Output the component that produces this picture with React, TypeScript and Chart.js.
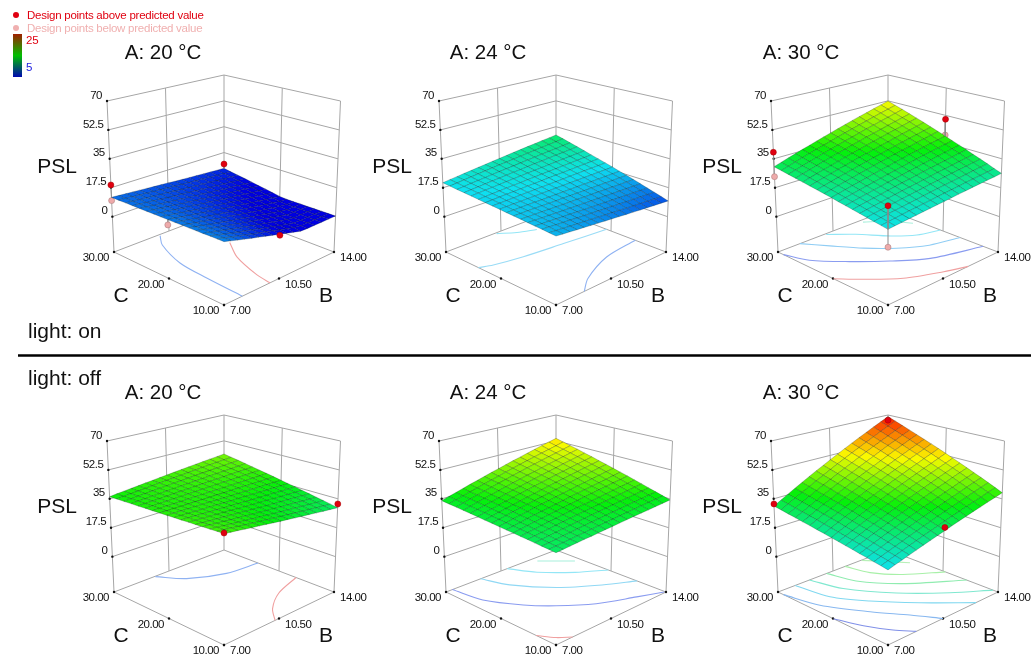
import React, { useEffect, useRef } from "react";
import { Chart, registerables } from "chart.js";

Chart.register(...registerables);

// Surface values: PSL x 10, rows run C = 10 -> 30, columns run B = 7 -> 14.
const psl_on_20 = [
[137,125,113,101,89,78,66,54,42,30,18,6,4,4,4,4,4],
[136,124,113,102,91,79,68,57,46,34,23,12,4,4,4,4,4],
[135,124,113,102,91,81,70,59,48,38,27,16,5,4,4,4,4],
[133,123,113,103,92,82,72,62,52,41,31,21,11,4,4,4,4],
[132,122,113,103,93,84,74,64,55,45,35,26,16,6,4,4,4],
[131,122,113,103,94,85,76,67,58,49,40,30,21,12,4,4,4],
[130,121,112,104,95,87,78,70,61,52,44,35,27,18,10,4,4],
[128,120,112,104,96,88,80,72,64,56,48,40,32,24,16,8,4],
[127,120,112,105,97,90,82,75,67,60,52,45,37,30,22,15,7],
[126,119,112,105,98,91,84,77,70,63,57,50,43,36,29,22,15],
[125,118,112,105,99,93,86,80,74,67,61,54,48,42,35,29,23],
[123,117,112,106,100,94,88,83,77,71,65,59,53,48,42,36,30],
[122,117,111,106,101,96,90,85,80,75,69,64,59,54,48,43,38],
[121,116,111,107,102,97,92,88,83,78,74,69,64,60,55,50,46],
[120,115,111,107,103,99,95,90,86,82,78,74,70,65,61,57,53],
[118,115,111,107,104,100,97,93,89,86,82,78,75,71,68,64,60],
[117,114,111,108,105,102,99,96,93,89,86,83,80,77,74,71,68],
];
const psl_on_24 = [
[168,163,159,154,150,145,141,136,132,127,122,118,113,109,104,100,95],
[170,166,162,158,154,151,147,143,139,135,131,127,123,119,115,111,108],
[173,170,166,163,160,156,153,150,147,143,140,137,133,130,127,124,120],
[175,172,170,167,164,162,159,156,154,151,148,146,143,140,138,135,132],
[177,175,173,171,169,167,165,163,161,159,157,155,153,151,149,147,145],
[180,178,177,176,174,173,171,170,169,167,166,165,163,162,160,159,158],
[182,181,181,180,179,178,177,177,176,175,174,174,173,172,171,171,170],
[184,184,184,184,184,183,183,183,183,183,183,183,182,182,182,182,182],
[187,187,188,188,189,189,190,190,191,191,192,192,193,193,194,194,195],
[189,190,191,192,194,195,196,197,198,199,200,202,203,204,205,206,207],
[191,193,195,197,198,200,202,203,205,207,209,210,212,214,216,218,219],
[193,195,198,200,203,205,207,210,212,215,217,219,222,224,227,229,231],
[196,199,202,205,208,211,214,217,220,223,226,229,232,235,238,241,244],
[198,202,205,209,213,216,220,224,227,231,235,238,242,246,249,253,257],
[200,204,209,213,217,222,226,230,234,239,243,247,252,256,260,265,269],
[203,208,213,218,223,228,233,238,242,247,252,257,262,267,272,277,282],
[205,211,216,222,227,233,238,244,249,255,261,266,272,277,283,288,294],
];
const psl_on_30 = [
[205,209,212,216,219,223,226,230,233,237,241,244,248,251,255,258,262],
[211,215,219,224,228,232,236,240,245,249,253,257,262,266,270,274,278],
[217,222,227,232,236,241,246,251,256,261,266,270,275,280,285,290,295],
[223,229,234,240,245,251,256,262,267,273,278,284,289,295,300,306,311],
[229,235,241,247,254,260,266,272,278,284,290,297,303,309,315,321,327],
[235,242,249,255,262,269,276,283,289,296,303,310,316,323,330,337,344],
[241,248,256,263,271,278,286,293,300,308,315,323,330,338,345,352,360],
[247,255,263,271,279,287,295,304,312,320,328,336,344,352,360,368,376],
[254,262,271,280,288,297,306,315,323,332,341,350,358,367,376,384,393],
[260,269,279,288,297,307,316,326,335,344,354,363,372,382,391,401,410],
[266,276,286,296,306,316,326,336,346,356,366,376,386,396,406,416,426],
[272,283,293,304,315,325,336,347,357,368,379,389,400,411,421,432,443],
[278,289,301,312,323,335,346,357,368,380,391,402,414,425,436,448,459],
[284,296,308,320,332,344,356,368,380,392,404,415,427,439,451,463,475],
[290,303,315,328,340,353,366,378,391,403,416,429,441,454,466,479,492],
[296,309,322,336,349,362,375,388,402,415,428,441,454,468,481,494,507],
[302,316,330,344,358,371,385,399,413,427,441,455,469,482,496,510,524],
];
const psl_off_20 = [
[403,396,390,383,376,370,363,356,349,343,336,329,323,316,309,303,296],
[401,395,389,383,377,371,365,359,353,347,341,335,329,323,317,311,305],
[398,393,387,382,377,372,366,361,356,350,345,340,335,329,324,319,314],
[396,391,386,382,377,373,368,363,359,354,350,345,341,336,331,327,322],
[393,389,385,381,378,374,370,366,362,358,354,350,347,343,339,335,331],
[391,387,384,381,378,375,372,368,365,362,359,356,352,349,346,343,340],
[388,386,383,381,378,376,373,371,368,366,363,361,358,356,353,351,349],
[386,384,382,380,378,377,375,373,371,370,368,366,364,362,361,359,357],
[383,382,381,380,379,378,377,375,374,373,372,371,370,369,368,367,366],
[381,380,380,379,379,379,378,378,378,377,377,377,376,376,375,375,375],
[378,378,379,379,379,380,380,380,381,381,381,382,382,382,383,383,384],
[376,377,378,379,380,381,382,383,384,385,386,387,388,389,390,391,392],
[373,375,377,378,380,382,384,385,387,389,391,392,394,396,398,399,401],
[371,373,375,378,380,383,385,388,390,393,395,398,400,402,405,407,410],
[368,371,374,377,381,384,387,390,393,396,400,403,406,409,412,415,419],
[366,369,373,377,381,385,389,393,396,400,404,408,412,416,419,423,427],
[363,368,372,377,381,386,390,395,399,404,409,413,418,422,427,431,436],
];
const psl_off_24 = [
[297,300,303,306,309,311,314,317,320,323,326,329,332,334,337,340,343],
[300,303,307,310,314,317,321,324,328,331,335,338,342,345,349,352,356],
[302,306,310,314,318,323,327,331,335,339,343,347,351,355,359,364,368],
[305,310,314,319,324,329,333,338,343,347,352,357,362,366,371,376,380],
[308,313,318,324,329,334,340,345,350,355,361,366,372,377,382,388,393],
[310,316,322,328,334,340,346,352,358,363,369,375,381,387,393,399,405],
[313,320,326,333,339,346,352,359,365,372,379,385,392,398,405,411,418],
[315,322,329,337,344,351,358,365,372,380,387,394,401,408,415,423,430],
[318,326,334,341,349,357,365,372,380,388,396,404,411,419,427,435,442],
[321,329,338,346,355,363,371,380,388,397,405,413,422,430,438,447,455],
[323,332,341,350,359,368,377,386,395,404,413,422,431,440,449,458,467],
[326,336,345,355,364,374,384,393,403,413,422,432,441,451,461,470,480],
[329,339,349,359,369,380,390,400,410,421,431,441,451,462,472,482,492],
[331,342,353,364,374,385,396,407,418,429,439,450,461,472,483,494,505],
[334,345,357,368,380,391,403,414,426,437,449,460,472,483,494,506,517],
[336,348,360,372,384,396,408,420,433,445,457,469,481,493,505,517,530],
[339,352,364,377,390,402,415,428,440,453,466,478,491,504,517,529,542],
];
const psl_off_30 = [
[202,214,225,237,248,260,271,283,294,306,318,329,341,352,364,375,387],
[209,221,233,246,258,270,283,295,307,320,332,344,357,369,381,394,406],
[215,228,241,254,267,281,294,307,320,333,346,359,372,385,399,412,425],
[222,235,249,263,277,291,305,319,333,346,360,374,388,402,416,430,444],
[228,243,257,272,287,301,316,331,345,360,375,389,404,418,433,448,462],
[235,250,265,281,296,312,327,343,358,373,389,404,420,435,451,466,481],
[241,257,273,290,306,322,338,354,371,387,403,419,435,452,468,484,500],
[248,264,281,298,315,332,349,366,383,400,417,434,451,468,485,502,519],
[254,272,289,307,325,343,360,378,396,414,431,449,467,485,502,520,538],
[261,279,298,316,335,353,372,390,409,427,446,464,483,501,520,538,557],
[267,286,306,325,344,364,383,402,421,441,460,479,498,518,537,556,576],
[274,294,314,334,354,374,394,414,434,454,474,494,514,534,554,574,594],
[280,301,322,343,363,384,405,426,447,468,488,509,530,551,572,593,613],
[287,308,330,351,373,395,416,438,459,481,503,524,546,568,589,611,632],
[293,315,338,360,383,405,427,450,472,494,517,539,562,584,606,629,651],
[300,323,346,369,392,415,438,462,485,508,531,554,577,600,624,647,670],
[306,330,354,378,402,426,450,473,497,521,545,569,593,617,641,665,689],
];

const BLUE = "#8fb2f2", RED = "#f0a0a0", CYAN = "#93e6f6";

// Contours on the floor: [B, C] pairs.
const contours_on_20 = [
  { color: BLUE, line: [[9.83,29.7],[9.2,27.5],[8.47,22.2],[8.28,16.8],[8.17,10]] },
  { color: RED, line: [[11.6,22.1],[10.74,18.3],[10.08,12.8],[9.93,10]] },
];
const contours_on_24 = [
  { color: CYAN, line: [[10.15,29.8],[10.92,28.3],[11.8,27.2]] },
  { color: "#9adcf6", line: [[7,24.1],[7.7,23.4],[9.3,22.5],[11.57,21.7],[14,20.8]] },
  { color: BLUE, line: [[8.8,10],[9.8,12.2],[11.9,14.8],[14,15.6]] },
];
const contours_on_30 = [
  { color: "#a8f0dc", line: [[12.2,29.4],[13.1,27.4],[13.7,24.6]] },
  { color: CYAN, line: [[10,29.8],[11,27.3],[12,23.8],[12.9,21.6],[14,20.5]] },
  { color: "#90cdf4", line: [[8.4,30],[9.25,27],[10.2,23.6],[11.26,20.6],[12.5,18.2],[14,16.9]] },
  { color: "#8a9cf0", line: [[7,29],[7.5,25.7],[8.75,22],[10.1,18.5],[11.55,15.3],[14,12.7]] },
  { color: RED, line: [[7,19.9],[7.95,17.2],[9.3,13.8],[11,11.3],[12.1,10]] },
];
const contours_off_20 = [
  { color: BLUE, line: [[9.6,29.9],[10.5,26.8],[12.2,24.4],[14,23.8]] },
  { color: RED, line: [[14,16.9],[12.3,15.2],[11,12.6],[10.25,10]] },
];
const contours_off_24 = [
  { color: "#a8f0dc", line: [[12.5,29.1],[13.1,27.4],[13.7,25.7]] },
  { color: CYAN, line: [[10.9,30],[11.6,26.6],[12.8,23.1],[14,20.5]] },
  { color: "#90d8f4", line: [[9.2,30],[9.73,26.2],[11.06,21.5],[12.66,17.8],[14,15.3]] },
  { color: "#8a9cf0", line: [[7.4,30],[7.7,25.3],[8.7,20.8],[9.7,17.7],[11.1,14.4],[12.8,11.9],[13.95,10.2]] },
  { color: RED, line: [[7,13.6],[7.5,11.4],[8.06,10]] },
];
const contours_off_30 = [
  { color: "#b8f0b8", line: [[12.3,29.9],[13,27.5],[13.65,25]] },
  { color: "#a8f0a8", line: [[11.27,30],[11.6,26.4],[12.5,23],[14,19.6]] },
  { color: "#90ecb0", line: [[10.1,30],[10.5,25.8],[11.8,21],[14,15.7]] },
  { color: "#80e8d0", line: [[9,30],[9.5,25.3],[10.9,19.6],[12.55,14.6],[14,10.9]] },
  { color: "#80d8f0", line: [[8.1,30],[8.45,24.7],[9.46,20.3],[10.9,15.4],[12.6,10]] },
  { color: "#88b8f0", line: [[7,29],[7.5,23.8],[8.7,18.1],[9.73,13.8],[10.5,10]] },
  { color: "#8090e8", line: [[7,19.9],[7.5,15.9],[8.16,12.4],[8.8,10]] },
];

// Design points: [B, C, PSL]
const above_on_20 = [[7,30,19.2],[14,30,9.7],[10.5,10,3.6]];
const below_on_20 = [[7,30,9.7],[7,20,9.6]];
const above_on_30 = [[7,30,39],[14,20,50],[7,10,33.6]];
const below_on_30 = [[7,30,24.2],[14,20,39.9],[7,10,10.6]];
const above_off_20 = [[7,10,40.6],[14,10,31.9]];
const above_off_30 = [[14,30,66.5],[7,30,31.9],[10.5,10,31.3]];

const PANELS = [
  { title: "A: 20 °C", tx: 163, px: 57, dx: 0, dy: 0, grid: psl_on_20, contours: contours_on_20, above: above_on_20, below: below_on_20 },
  { title: "A: 24 °C", tx: 488, px: 392, dx: 332, dy: 0, grid: psl_on_24, contours: contours_on_24, above: [], below: [] },
  { title: "A: 30 °C", tx: 801, px: 722, dx: 664, dy: 0, grid: psl_on_30, contours: contours_on_30, above: above_on_30, below: below_on_30 },
  { title: "A: 20 °C", tx: 163, px: 57, dx: 0, dy: 340, grid: psl_off_20, contours: contours_off_20, above: above_off_20, below: [] },
  { title: "A: 24 °C", tx: 488, px: 392, dx: 332, dy: 340, grid: psl_off_24, contours: contours_off_24, above: [], below: [] },
  { title: "A: 30 °C", tx: 801, px: 722, dx: 664, dy: 340, grid: psl_off_30, contours: contours_off_30, above: above_off_30, below: [] },
];

const B_TICKS = [7, 10.5, 14];
const C_TICKS = [10, 20, 30];
const Z_TICKS = [0, 17.5, 35, 52.5, 70];
const B_LABELS = ["7.00", "10.50", "14.00"];
const C_LABELS = ["10.00", "20.00", "30.00"];
const Z_LABELS = ["0", "17.5", "35", "52.5", "70"];
const ZMIN = -21.4, ZMAX = 70;

// Box geometry of the first panel (corner = front, right, left, back)
const FLOOR = [[224, 305], [334, 252], [114, 252], [224, 210]];
const TOP = [[224, 140], [340.5, 101], [107, 101], [224, 75]];

const lerp = (a: number, b: number, t: number) => a + (b - a) * t;
function project(p: any, b: number, c: number, z: number) {
  const t = (b - 7) / 7, s = (c - 10) / 20, h = (z - ZMIN) / (ZMAX - ZMIN);
  const bil = (q: number[][], k: number) =>
    lerp(lerp(q[0][k], q[1][k], t), lerp(q[2][k], q[3][k], t), s);
  return {
    x: lerp(bil(FLOOR, 0), bil(TOP, 0), h) + p.dx,
    y: lerp(bil(FLOOR, 1), bil(TOP, 1), h) + p.dy,
  };
}

const STOPS: [number, number[]][] = [
  [4, [0, 0, 225]], [20, [15, 225, 240]], [36, [5, 240, 10]], [52, [250, 250, 0]], [70, [250, 10, 0]],
];
function colour(v: number) {
  if (v <= STOPS[0][0]) return `rgb(${STOPS[0][1].join(",")})`;
  for (let i = 1; i < STOPS.length; i++) {
    if (v <= STOPS[i][0]) {
      const f = (v - STOPS[i - 1][0]) / (STOPS[i][0] - STOPS[i - 1][0]);
      const c = STOPS[i][1].map((x, k) => Math.round(lerp(STOPS[i - 1][1][k], x, f)));
      return `rgb(${c.join(",")})`;
    }
  }
  return "rgb(250,10,0)";
}

function lineDs(data: any[], color: string, width = 1, extra: any = {}) {
  return { data, borderColor: color, borderWidth: width, showLine: true, pointRadius: 0, fill: false, clip: false, ...extra };
}

function surfaceAt(p: any, b: number, c: number) {
  const n = p.grid.length - 1;
  const i = Math.round(((b - 7) / 7) * n), j = Math.round(((c - 10) / 20) * n);
  return p.grid[j][i] / 10;
}

function buildDatasets() {
  const out: any[] = [];
  const wall = "#a6a6a6";
  for (const p of PANELS) {
    // walls
    for (const z of Z_TICKS) {
      out.push(lineDs([project(p, 7, 30, z), project(p, 14, 30, z), project(p, 14, 10, z)], wall));
    }
    for (const b of B_TICKS) out.push(lineDs([project(p, b, 30, ZMIN), project(p, b, 30, ZMAX)], wall));
    for (const c of C_TICKS.slice(0, 2)) out.push(lineDs([project(p, 14, c, ZMIN), project(p, 14, c, ZMAX)], wall));
    out.push(lineDs([
      project(p, 7, 30, ZMIN), project(p, 7, 10, ZMIN), project(p, 14, 10, ZMIN),
      project(p, 14, 30, ZMIN), project(p, 7, 30, ZMIN),
    ], wall));
    // tick marks
    const ticks = [
      ...Z_TICKS.map((z) => project(p, 7, 30, z)),
      ...C_TICKS.map((c) => project(p, 7, c, ZMIN)),
      ...B_TICKS.map((b) => project(p, b, 10, ZMIN)),
    ];
    out.push({ data: ticks, showLine: false, pointRadius: 1.2, pointBackgroundColor: "#111", pointBorderWidth: 0, clip: false });
    // contours
    for (const ct of p.contours) {
      out.push(lineDs(ct.line.map(([b, c]: number[]) => project(p, b, c, ZMIN)), ct.color, 1.1, { tension: 0.3 }));
    }
    // design points below the surface
    for (const [b, c, z] of p.below) {
      out.push(lineDs([project(p, b, c, z), project(p, b, c, surfaceAt(p, b, c))], "#8a8a8a"));
      out.push({ data: [project(p, b, c, z)], showLine: false, pointRadius: 3, pointBackgroundColor: "#eeaaaa", pointBorderColor: "#b08080", pointBorderWidth: 0.6, clip: false });
    }
    // surface, back cells first
    const n = p.grid.length - 1;
    for (let j = n - 1; j >= 0; j--) {
      for (let i = n - 1; i >= 0; i--) {
        const g = p.grid;
        const bv = (k: number) => 7 + (7 * k) / n, cv = (k: number) => 10 + (20 * k) / n;
        const v = [g[j][i], g[j][i + 1], g[j + 1][i + 1], g[j + 1][i]].map((x: number) => x / 10);
        const mean = (v[0] + v[1] + v[2] + v[3]) / 4;
        const a = project(p, bv(i), cv(j), v[0]);
        out.push({
          data: [a, project(p, bv(i + 1), cv(j), v[1]), project(p, bv(i + 1), cv(j + 1), v[2]), project(p, bv(i), cv(j + 1), v[3]), a],
          showLine: true, pointRadius: 0, clip: false,
          borderColor: "rgba(0,20,20,0.32)", borderWidth: 0.7,
          backgroundColor: colour(mean), fill: "shape",
        });
      }
    }
    // design points above the surface
    for (const [b, c, z] of p.above) {
      out.push(lineDs([project(p, b, c, z), project(p, b, c, surfaceAt(p, b, c))], "#8a8a8a"));
      out.push({ data: [project(p, b, c, z)], showLine: false, pointRadius: 3, pointBackgroundColor: "#e00010", pointBorderColor: "#a00000", pointBorderWidth: 0.5, clip: false });
    }
  }
  // divider
  out.push(lineDs([{ x: 18, y: 355.5 }, { x: 1031, y: 355.5 }], "#000", 2.5));
  return out.reverse();
}

const textPlugin = {
  id: "texts",
  afterDatasetsDraw(chart: any) {
    const ctx = chart.ctx;
    const X = (v: number) => chart.scales.x.getPixelForValue(v);
    const Y = (v: number) => chart.scales.y.getPixelForValue(v);
    const FF = '"Liberation Sans", Arial, sans-serif';
    const put = (s: string, x: number, y: number, size: number, align: any = "center", color = "#111", sp = 0) => {
      ctx.font = `${size}px ${FF}`;
      ctx.letterSpacing = `${sp}px`;
      ctx.textAlign = align;
      ctx.textBaseline = "middle";
      ctx.fillStyle = color;
      ctx.fillText(s, X(x), Y(y));
    };
    ctx.save();
    for (const p of PANELS) {
      put(p.title, p.tx, 53 + p.dy, 20.5);
      put("PSL", p.px, 167.5 + p.dy, 21);
      put("C", 121 + p.dx, 296 + p.dy, 21);
      put("B", 326 + p.dx, 296 + p.dy, 21);
      Z_TICKS.forEach((z, i) => {
        const q = project(p, 7, 30, z);
        put(Z_LABELS[i], q.x - 5, q.y - 5.5, 11.5, "right", "#111", -0.5);
      });
      C_TICKS.forEach((c, i) => {
        const q = project(p, 7, c, ZMIN);
        put(C_LABELS[i], q.x - 5, q.y + 6, 11.5, "right", "#111", -0.5);
      });
      B_TICKS.forEach((b, i) => {
        const q = project(p, b, 10, ZMIN);
        put(B_LABELS[i], q.x + 6, q.y + 6, 11.5, "left", "#111", -0.5);
      });
    }
    put("light: on", 28, 332, 21, "left");
    put("light: off", 28, 379, 21, "left");
    // legend
    ctx.fillStyle = "#e00010";
    ctx.beginPath(); ctx.arc(X(16), Y(15), 3, 0, 7); ctx.fill();
    ctx.fillStyle = "#f0b0b0";
    ctx.beginPath(); ctx.arc(X(16), Y(28), 3, 0, 7); ctx.fill();
    put("Design points above predicted value", 27, 15.5, 11.5, "left", "#e00010", -0.25);
    put("Design points below predicted value", 27, 28.5, 11.5, "left", "#f0b0b0", -0.25);
    const g = ctx.createLinearGradient(0, Y(34), 0, Y(77));
    g.addColorStop(0, "#a02000");
    g.addColorStop(0.5, "#00c000");
    g.addColorStop(1, "#0008b0");
    ctx.fillStyle = g;
    ctx.fillRect(X(13), Y(34), 9, 43);
    put("25", 26, 41, 11.5, "left", "#e00010", -0.25);
    put("5", 26, 68, 11.5, "left", "#2020e0");
    ctx.restore();
  },
};

export default function App() {
  const ref = useRef<HTMLCanvasElement>(null);
  useEffect(() => {
    const chart = new Chart(ref.current!, {
      type: "scatter",
      data: { datasets: buildDatasets() },
      options: {
        animation: false,
        responsive: false,
        parsing: false,
        layout: { padding: 0, autoPadding: false },
        plugins: { legend: { display: false }, tooltip: { enabled: false } },
        scales: {
          x: { type: "linear", min: 0, max: 1031, display: false },
          y: { type: "linear", min: 0, max: 656, reverse: true, display: false },
        },
      },
      plugins: [textPlugin],
    } as any);
    return () => chart.destroy();
  }, []);
  return (
    <div style={{ position: "fixed", left: 0, top: 0, width: 1031, height: 656, background: "#fff" }}>
      <canvas ref={ref} width={1031} height={656} style={{ display: "block", filter: "blur(0.35px)" }} />
    </div>
  );
}
